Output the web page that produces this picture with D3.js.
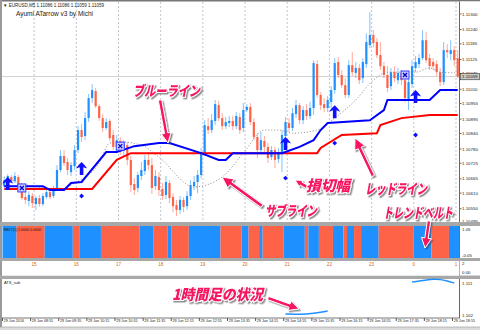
<!DOCTYPE html>
<html>
<head>
<meta charset="utf-8">
<script src="https://d3js.org/d3.v7.min.js"></script>
<style>
  body { margin: 0; background: #fff; }
  svg { display: block; font-family: Arial, "Liberation Sans", sans-serif; }
  .ax { font-size: 4.4px; fill: #222; }
  .note { font-family: "Noto Sans CJK JP", sans-serif; font-weight: 900; font-style: italic;
          fill: #f7145f; stroke: #fff; stroke-width: 2.2px; paint-order: stroke; }
</style>
</head>
<body>
<div id="chart"></div>
<script>
// EURUSD M5 bars, in points above 1.10000 : [open, high, low, close]
var bars = [
  [637,672,630,660],[657,684,649,676],[672,680,649,657],[657,691,649,676],[672,680,626,637],
  [637,645,584,591],[595,614,568,584],[580,618,560,603],[599,610,553,572],[568,599,545,591],
  [591,603,557,568],[568,610,560,599],[595,626,587,614],[614,622,587,595],[599,637,591,626],
  [630,718,622,699],[699,776,691,753],[753,776,714,726],[730,745,680,699],[691,730,676,718],
  [714,795,699,776],[776,868,764,853],[853,876,807,826],[830,922,814,899],[899,992,884,976],
  [976,1030,957,1007],[1003,1015,938,945],[945,953,888,899],[899,915,845,861],[861,899,853,884],
  [888,895,811,822],[834,853,776,788],[788,834,768,814],[811,826,757,776],[776,814,753,799],
  [795,807,718,738],[738,753,614,641],[645,668,603,622],[630,691,614,680],[676,730,660,699],
  [695,757,680,738],[738,768,699,718],[718,745,607,630],[637,699,622,676],[672,691,599,622],
  [626,649,584,599],[603,676,587,653],[649,660,572,591],[595,610,537,560],[564,584,522,545],
  [545,599,530,584],[584,595,537,557],[560,618,545,599],[599,660,584,641],[637,676,622,653],
  [653,699,610,680],[680,784,668,768],[764,891,753,872],[868,899,838,853],[853,915,841,891],
  [888,969,872,953],[949,965,888,899],[899,918,853,868],[868,903,857,884],[880,907,864,888],
  [888,907,853,868],[868,922,857,907],[903,918,838,853],[861,957,845,930],[930,953,922,942],
  [942,957,872,884],[884,899,814,826],[826,841,745,776],[776,845,761,814],[811,830,768,788],
  [788,803,726,745],[749,791,738,776],[776,788,707,738],[741,784,726,768],[768,853,691,834],
  [830,903,814,884],[880,899,845,861],[861,938,849,918],[915,969,899,949],[949,957,876,891],
  [891,945,876,930],[930,953,891,907],[907,961,895,938],[938,1122,911,1111],[1107,1122,976,988],
  [988,999,930,949],[953,976,922,938],[938,984,922,969],[961,1022,930,1007],[1007,1130,992,1111],
  [1115,1134,1053,1065],[1065,1084,1015,1026],[1026,1053,976,988],[988,1122,976,1103],[1103,1153,1061,1076],
  [1073,1115,1053,1092],[1092,1107,1030,1045],[1053,1130,1034,1115],[1107,1226,1092,1192],[1180,1307,1169,1219],
  [1219,1238,1172,1188],[1192,1207,1130,1142],[1142,1192,1084,1099],[1099,1115,1053,1065],[1065,1099,999,1015],
  [1022,1092,1007,1076],[1076,1099,1038,1053],[1045,1092,1030,1073],[1073,1084,1026,1045],[1045,1061,961,976],
  [969,1053,930,1038],[1030,1122,1015,1099],[1092,1138,1076,1115],[1107,1146,1092,1130],[1130,1238,1122,1199],
  [1199,1230,1111,1122],[1130,1146,1084,1099],[1115,1130,1084,1099],[1107,1122,1061,1076],[1076,1092,1022,1038],
  [1038,1192,1026,1161],[1161,1184,1130,1153],[1146,1199,1122,1161],[1161,1176,1099,1122],[1130,1161,1053,1059]
];

// indicator lines : [bar, points]
var blueLine = [[0,637],[11,637],[13,622],[17,622],[19,649],[22,653],[29,768],[32,768],[37,791],[44,803],
  [47,803],[56,764],[61,738],[63,738],[65,764],[79,764],[84,788],[88,814],[90,853],[92,880],[104,891],
  [108,930],[109,969],[121,969],[124,1007],[129,1007]];
var redLine = [[0,626],[25,626],[32,738],[36,764],[89,764],[90,784],[96,834],[106,841],[107,872],
  [113,899],[121,911],[129,911]];
var subLine = [[0,672],[2,660],[11,630],[15,622],[20,649],[27,726],[30,803],[33,807],[39,795],[44,749],
  [54,634],[62,672],[68,764],[74,853],[78,853],[82,841],[89,853],[94,899],[100,969],[105,1045],
  [109,1076],[117,1076],[121,1092],[124,1076],[129,1073]];

var upArrows = [[1,672],[22,730],[80,826],[94,949],[117,1007]];   // tip of arrow
var stopDots = [[22,599],[80,668],[94,803],[117,834]];
var crossBoxes = [[5,630],[33,791],[114,1065]];
var bidPrice = "1.11059";

var priceTicks = ["1.11300","1.11240","1.11185","1.11125","1.11070","1.11010","1.10955","1.10895",
  "1.10840","1.10780","1.10725","1.10665","1.10610","1.10550","1.10495"];
var hourLabels = ["15","16","17","18","19","20","21","22","23","0","1"];
var timeLabels = ["29 Jun 2016","29 Jun 08:55","29 Jun 09:35","29 Jun 10:15","29 Jun 10:55","29 Jun 11:35",
  "29 Jun 12:15","29 Jun 12:55","29 Jun 13:35","29 Jun 14:15","29 Jun 14:55","29 Jun 15:35",
  "29 Jun 16:15","29 Jun 16:55","29 Jun 17:35","29 Jun 18:15","29 Jun 18:55"];

// trend belt : [state, bars]  1 = up (blue), 0 = down (red)
var beltRuns = [[1,4],[0,8],[1,8],[0,2],[1,6],[0,11],[1,4],[0,4],[1,1],[0,5],[1,9],[0,6],[1,2],[0,3],
  [1,1],[0,6],[1,6],[0,1],[1,3],[0,4],[1,3],[0,1],[1,2],[0,2],[1,5],[0,10],[1,5],[0,5],[1,3]];

// 1 hour line shown in sub window : [bar, price]
var hourLineA = [[80,1.1023],[84,1.1021],[88,1.1024],[92,1.1031]];
var hourLineB = [[116,1.1113],[120,1.1118],[122,1.1121],[124,1.1120],[126,1.1116],[128,1.1110]];

var W = 480, H = 330;
var BLUE = "#1e90ff", RED = "#ff6347";

var svg = d3.select("#chart").append("svg").attr("width", W).attr("height", H);
var defs = svg.append("defs");
defs.append("filter").attr("id", "shade").attr("x", "-20%").attr("y", "-20%").attr("width", "140%").attr("height", "150%")
  .append("feDropShadow").attr("dx", 1.5).attr("dy", 1.5).attr("stdDeviation", 0.7)
  .attr("flood-color", "#444").attr("flood-opacity", 0.6);

var x = d3.scaleLinear().domain([-0.5, 129.5]).range([2.5, 459.5]);
var y = d3.scaleLinear().domain([495, 1300]).range([223, 14]);
var pt = function(s) { return Math.round((+s - 1.1) * 1e5); };

// frame
svg.append("rect").attr("x", 0).attr("y", 0).attr("width", W).attr("height", 1.5).attr("fill", "#777");
svg.append("rect").attr("x", 0).attr("y", 0).attr("width", 2).attr("height", 327).attr("fill", "#999");

// grid: hour separators
var hours = d3.range(11).map(function(k) { return 8.5 + 12 * k; });
svg.selectAll(".vgrid").data(hours).enter().append("line")
  .attr("x1", function(d) { return x(d); }).attr("x2", function(d) { return x(d); })
  .attr("y1", 2).attr("y2", 222)
  .attr("stroke", "#b4b4c4").attr("stroke-dasharray", "2,2").attr("stroke-width", 0.8);

// bid line
svg.append("line").attr("x1", 2).attr("x2", 460).attr("y1", y(pt(bidPrice))).attr("y2", y(pt(bidPrice)))
  .attr("stroke", "#d0d0d0").attr("stroke-width", 1);

// candles
var cw = 2.2;
var candle = svg.append("g").selectAll("g").data(bars).enter().append("g");
candle.append("line")
  .attr("x1", function(d, i) { return x(i); }).attr("x2", function(d, i) { return x(i); })
  .attr("y1", function(d) { return y(d[1]); }).attr("y2", function(d) { return y(d[2]); })
  .attr("stroke", function(d) { return d[3] >= d[0] ? BLUE : RED; })
  .attr("stroke-opacity", 0.55).attr("stroke-width", 1);
candle.append("rect")
  .attr("x", function(d, i) { return x(i) - cw / 2; }).attr("width", cw)
  .attr("y", function(d) { return y(Math.max(d[0], d[3])); })
  .attr("height", function(d) { return Math.max(1, Math.abs(y(d[0]) - y(d[3]))); })
  .attr("fill", function(d) { return d[3] >= d[0] ? BLUE : RED; });

// indicator lines
var line = d3.line().x(function(d) { return x(d[0]); }).y(function(d) { return y(d[1]); });
svg.append("path").attr("d", line.curve(d3.curveMonotoneX)(subLine)).attr("fill", "none")
  .attr("stroke", "#8a8a8a").attr("stroke-width", 1).attr("stroke-dasharray", "1,2");
line.curve(d3.curveLinear);
svg.append("path").attr("d", line(redLine)).attr("fill", "none").attr("stroke", "#ff0000").attr("stroke-width", 2);
svg.append("path").attr("d", line(blueLine)).attr("fill", "none").attr("stroke", "#0000ff").attr("stroke-width", 2);

// signals
svg.selectAll(".arr").data(upArrows).enter().append("path")
  .attr("transform", function(d) { return "translate(" + x(d[0]) + "," + y(d[1]) + ")"; })
  .attr("d", "M0,0 C2,2 4,4 5.5,6.5 L1.8,5.2 L1.8,13 L-1.8,13 L-1.8,5.2 L-5.5,6.5 C-4,4 -2,2 0,0Z")
  .attr("fill", "#1010ff");
svg.selectAll(".dot").data(stopDots).enter().append("path")
  .attr("transform", function(d) { return "translate(" + x(d[0]) + "," + y(d[1]) + ")"; })
  .attr("d", "M0,-2.4 L2.4,0 L0,2.4 L-2.4,0Z").attr("fill", "#1010ff");
var cb = svg.selectAll(".cb").data(crossBoxes).enter().append("g")
  .attr("transform", function(d) { return "translate(" + x(d[0]) + "," + y(d[1]) + ")"; });
cb.append("rect").attr("x", -4).attr("y", -4).attr("width", 8).attr("height", 8)
  .attr("fill", "#c8d0ff").attr("stroke", "#3a3aff").attr("stroke-width", 1);
cb.append("path").attr("d", "M-2,-2L2,2M2,-2L-2,2").attr("stroke", "#0000cc").attr("stroke-width", 1.3);

// right price axis
svg.append("rect").attr("x", 460).attr("y", 1.5).attr("width", 20).attr("height", 325).attr("fill", "#fff");
svg.append("line").attr("x1", 459.5).attr("x2", 459.5).attr("y1", 1.5).attr("y2", 318).attr("stroke", "#666");
var pa = svg.selectAll(".pt").data(priceTicks.filter(function(d) { return d !== "1.10495"; })).enter().append("g")
  .attr("transform", function(d) { return "translate(460," + y(pt(d)) + ")"; });
pa.append("line").attr("x2", 1.5).attr("stroke", "#666");
pa.append("text").attr("class", "ax").attr("x", 2).attr("dy", "0.35em").text(function(d) { return d; });
svg.append("text").attr("class", "ax").attr("x", 462).attr("y", y(pt("1.10495")) - 0.3).text("1.10495");
var bid = svg.append("g").attr("transform", "translate(460," + y(pt(bidPrice)) + ")");
bid.append("rect").attr("x", 0.5).attr("y", -3.2).attr("width", 19).attr("height", 6.4)
  .attr("fill", "#c8c8c8").attr("stroke", "#333").attr("stroke-width", 0.6);
bid.append("text").attr("class", "ax").attr("x", 2).attr("dy", "0.35em").attr("fill", "#000").text(bidPrice);

// header texts
svg.append("text").attr("x", 3).attr("y", 6.5).attr("font-size", 4.5).attr("fill", "#222")
  .text("\u25BC EURUSD,M5  1.11086 1.11086 1.11059 1.11059");
svg.append("text").attr("x", 16).attr("y", 16).attr("font-size", 6.5).attr("fill", "#222")
  .text("Ayumi ATarrow v3 by Michi");

// window separators
[[222, 4], [258, 3], [275.5, 3.5]].forEach(function(s) {
  svg.append("rect").attr("x", 0).attr("y", s[0]).attr("width", W).attr("height", s[1]).attr("fill", "#a8a8a8");
});

// trend belt
var runs = [], start = 0;
beltRuns.forEach(function(r) { runs.push({ s: r[0], a: start, b: start + r[1] }); start += r[1]; });
svg.selectAll(".belt").data(runs).enter().append("rect")
  .attr("x", function(d) { return x(d.a - 0.5); }).attr("width", function(d) { return x(d.b - 0.5) - x(d.a - 0.5); })
  .attr("y", 226).attr("height", 32)
  .attr("fill", function(d) { return d.s ? BLUE : RED; });
svg.append("text").attr("x", 4).attr("y", 231).attr("font-size", 3.6).attr("fill", "#111").text("BELT(1) 1.0000 0.0000");
svg.append("text").attr("class", "ax").attr("x", 462).attr("y", 231).text("1.05");
svg.append("text").attr("class", "ax").attr("x", 462).attr("y", 257).text("-0.05");

// hour labels window
svg.append("rect").attr("x", 2).attr("y", 261).attr("width", 457.5).attr("height", 14.5).attr("fill", "#fff");
svg.selectAll(".hl").data(hourLabels).enter().append("text")
  .attr("x", function(d, i) { return x(hours[i]); }).attr("y", 265.5)
  .attr("text-anchor", "middle").attr("font-size", 4.6).attr("fill", "#d2691e").text(function(d) { return d; });
svg.append("text").attr("class", "ax").attr("x", 462).attr("y", 265).text("2");
svg.append("text").attr("class", "ax").attr("x", 462).attr("y", 274).text("0.00");

// ATS sub window
var ys = d3.scaleLinear().domain([1.102, 1.111]).range([315, 283]);
svg.append("text").attr("x", 4).attr("y", 284).attr("font-size", 4).attr("fill", "#222").text("ATS_sub");
var sline = d3.line().x(function(d) { return x(d[0]); }).y(function(d) { return ys(d[1]); }).curve(d3.curveBasis);
[hourLineA, hourLineB].forEach(function(s) {
  svg.append("path").attr("d", sline(s)).attr("fill", "none").attr("stroke", BLUE).attr("stroke-width", 1.5);
});
svg.append("text").attr("class", "ax").attr("x", 462).attr("y", ys(1.111) + 1.6).text("1.111");
svg.append("text").attr("class", "ax").attr("x", 462).attr("y", ys(1.102) + 1.6).text("1.102");

// time axis
svg.append("line").attr("x1", 2).attr("x2", 460).attr("y1", 318).attr("y2", 318).attr("stroke", "#777");
var ta = svg.selectAll(".tl").data(timeLabels).enter().append("g")
  .attr("transform", function(d, i) { return "translate(" + x(8 * i - 0.5) + ",318)"; });
ta.append("line").attr("y1", 0).attr("y2", 3).attr("stroke", "#555");
ta.append("text").attr("x", 1.2).attr("y", 4).attr("font-size", 3.7).attr("fill", "#222").text(function(d) { return d; });

// tab bar
svg.append("rect").attr("x", 0).attr("y", 327).attr("width", W).attr("height", 3).attr("fill", "#dcdcdc");
svg.append("line").attr("x1", 0).attr("x2", W).attr("y1", 327).attr("y2", 327).attr("stroke", "#999").attr("stroke-width", 0.6);

// annotations
var notes = [
  { t: "ブルーライン", x: 133, y: 96, len: 67, size: 14 },
  { t: "サブライン", x: 265, y: 216, len: 52, size: 14 },
  { t: "損切幅", x: 306, y: 191, len: 44, size: 15 },
  { t: "レッドライン", x: 365, y: 194, len: 62, size: 14 },
  { t: "トレンドベルト", x: 383, y: 218, len: 70, size: 14 },
  { t: "1時間足の状況", x: 172, y: 300, len: 91, size: 15 }
];
var pointers = [[160,100,168,143,10],[262,206,222,177,11],[307,187,295,180,7],[373,176,355,138,11],
  [429,221,425,248,10],[268,298,299,309,10]];

function arrowPath(p) {
  var x1 = p[0], y1 = p[1], x2 = p[2], y2 = p[3], hl = p[4];
  var dx = x2 - x1, dy = y2 - y1, L = Math.sqrt(dx * dx + dy * dy);
  var ux = dx / L, uy = dy / L, nx = -uy, ny = ux;
  var w = 1.7, hw = hl * 0.5;
  var bx = x2 - ux * hl, by = y2 - uy * hl;
  var pts = [[x1 + nx * w, y1 + ny * w], [bx + nx * w, by + ny * w], [bx + nx * hw, by + ny * hw], [x2, y2],
    [bx - nx * hw, by - ny * hw], [bx - nx * w, by - ny * w], [x1 - nx * w, y1 - ny * w]];
  return "M" + pts.map(function(q) { return q[0].toFixed(1) + "," + q[1].toFixed(1); }).join("L") + "Z";
}
var ann = svg.append("g").attr("filter", "url(#shade)");
ann.selectAll(".ptr").data(pointers).enter().append("path").attr("d", arrowPath)
  .attr("fill", "#f7145f").attr("stroke", "#fff").attr("stroke-width", 1);
ann.selectAll(".note").data(notes).enter().append("text").attr("class", "note")
  .attr("x", function(d) { return d.x; }).attr("y", function(d) { return d.y; })
  .attr("font-size", function(d) { return d.size; })
  .attr("textLength", function(d) { return d.len; }).attr("lengthAdjust", "spacingAndGlyphs")
  .text(function(d) { return d.t; });
</script>
</body>
</html>
